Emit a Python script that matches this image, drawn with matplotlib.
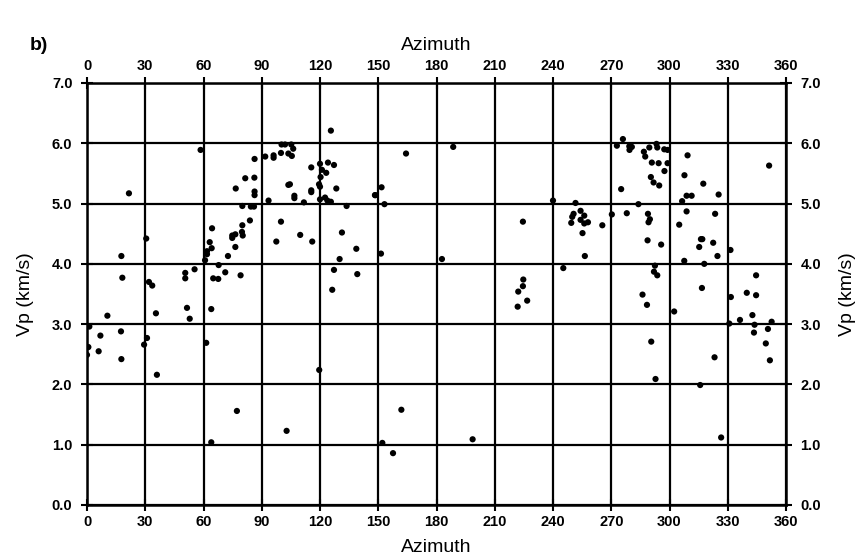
import matplotlib
matplotlib.use("Agg")
import matplotlib.pyplot as plt
import numpy as np

plt.rcParams['font.family'] = ['Liberation Sans', 'DejaVu Sans']

# Azimuth (degrees) and P-wave velocity (km/s) of each measurement
azimuth = [
    125.6, 58.5, 86.3, 91.8, 96.1, 96.1, 99.9, 100.2, 102.0, 105.2, 106.2, 103.7, 105.5,
    115.5, 120.0, 124.1, 127.2, 121.0, 123.2, 120.3, 119.5, 120.0, 128.4, 115.5, 115.5,
    103.7, 104.5, 106.8, 106.8, 111.7, 120.0, 122.6, 123.8, 125.6, 133.7, 148.3,
    76.6, 81.5, 86.2, 86.3, 86.3, 93.5, 80.0, 84.4, 86.0, 83.9, 80.0, 99.9, 109.8,
    116.0, 97.5, 131.3, 138.7, 130.1, 127.2, 139.2, 126.3, 79.8, 80.2, 74.8, 76.4,
    74.8, 76.4, 72.6, 64.4, 63.2, 64.2, 61.8, 61.8, 60.8, 67.8, 71.2, 65.0, 67.6,
    79.1, 55.4, 50.6, 50.6, 31.9, 33.6, 17.7, 18.2, 21.6, 30.5,
    10.5, 35.5, 51.5, 52.9, 64.0, 1.2, 6.9, 17.5, 0.2, 0.7, 0.0, 6.0, 17.7, 30.9,
    29.4, 36.0, 61.4, 119.6, 77.2, 102.8, 64.0,
    164.3, 188.6, 151.7, 148.5, 153.2, 151.4, 182.8, 224.5, 224.7, 224.5, 222.1,
    240.0, 245.3, 251.6, 250.6, 249.9, 249.4, 254.2, 256.1, 254.2, 256.1, 258.0,
    255.2, 256.4, 265.4, 270.3, 278.0, 284.0, 275.1, 276.0, 272.9, 279.3, 280.6,
    279.4, 286.8, 287.5, 289.6, 293.3, 293.7, 297.3, 299.0, 290.9, 294.4, 299.0,
    297.4, 290.4, 291.8, 294.7, 288.9, 289.9, 289.2, 288.7, 295.7, 292.5, 292.0,
    293.7, 286.1,
    309.3, 307.7, 317.4, 325.3, 308.8, 311.4, 306.5, 308.8, 323.5, 305.0, 316.2,
    316.9, 315.3, 322.5, 324.7, 331.4, 307.6, 317.9, 344.6, 316.7, 339.8, 344.6,
    331.6, 351.3,
    288.4, 302.4, 336.3, 342.7, 330.8, 343.8, 343.5, 350.7, 352.6, 349.6, 351.7,
    290.6, 292.8, 323.2, 315.8, 326.6,
    221.8, 226.7, 161.9, 198.6, 152.1, 157.6,
]
vp = [
    6.21, 5.89, 5.74, 5.78, 5.76, 5.80, 5.84, 5.98, 5.98, 5.98, 5.91, 5.83, 5.79,
    5.60, 5.66, 5.68, 5.64, 5.56, 5.51, 5.44, 5.32, 5.28, 5.25, 5.22, 5.19,
    5.31, 5.32, 5.13, 5.09, 5.02, 5.07, 5.10, 5.05, 5.03, 4.96, 5.14,
    5.25, 5.42, 5.43, 5.20, 5.14, 5.05, 4.96, 4.95, 4.95, 4.72, 4.64, 4.70, 4.48,
    4.37, 4.37, 4.52, 4.25, 4.08, 3.90, 3.83, 3.57, 4.53, 4.47, 4.47, 4.49,
    4.43, 4.28, 4.13, 4.59, 4.36, 4.26, 4.21, 4.16, 4.06, 3.98, 3.86, 3.76, 3.75,
    3.81, 3.91, 3.85, 3.76, 3.70, 3.64, 4.13, 3.77, 5.17, 4.42,
    3.14, 3.18, 3.27, 3.09, 3.25, 2.96, 2.81, 2.88, 2.62, 2.62, 2.49, 2.55, 2.42, 2.77,
    2.66, 2.16, 2.69, 2.24, 1.56, 1.23, 1.04,
    5.83, 5.94, 5.27, 5.14, 4.99, 4.17, 4.08, 4.70, 3.74, 3.63, 3.54,
    5.05, 3.93, 5.01, 4.83, 4.78, 4.68, 4.88, 4.80, 4.73, 4.67, 4.69,
    4.51, 4.13, 4.64, 4.82, 4.84, 4.99, 5.24, 6.07, 5.96, 5.95, 5.94,
    5.89, 5.86, 5.78, 5.93, 5.99, 5.93, 5.90, 5.89, 5.68, 5.67, 5.67,
    5.54, 5.44, 5.35, 5.30, 4.83, 4.74, 4.69, 4.39, 4.32, 3.97, 3.87,
    3.81, 3.49,
    5.80, 5.47, 5.33, 5.15, 5.13, 5.13, 5.04, 4.87, 4.83, 4.65, 4.41,
    4.41, 4.28, 4.35, 4.13, 4.23, 4.05, 4.00, 3.81, 3.60, 3.52, 3.48,
    3.45, 5.63,
    3.32, 3.21, 3.07, 3.15, 3.01, 2.99, 2.86, 2.92, 3.04, 2.68, 2.40,
    2.71, 2.09, 2.45, 1.99, 1.12,
    3.29, 3.39, 1.58, 1.09, 1.03, 0.86,
]

az_ticks = list(range(0, 361, 30))
vp_ticks = [0.0, 1.0, 2.0, 3.0, 4.0, 5.0, 6.0, 7.0]
vp_tick_labels = [f"{v:.1f}" for v in vp_ticks]

W, H = 867, 560
fig = plt.figure(figsize=(W / 100, H / 100), dpi=100)
ax = fig.add_axes([87 / W, 1 - 505 / H, (786 - 87) / W, (505 - 83) / H])

ax.set_xlim(0, 360)
ax.set_ylim(0, 7)

# heavy black grid, as on the printed figure
for x in az_ticks:
    ax.axvline(x, color='black', lw=1.6, zorder=1)
for y in vp_ticks:
    ax.axhline(y, color='black', lw=1.6, zorder=1)

ax.scatter(azimuth, vp, s=20, color='black', edgecolors='none', zorder=3)

for s in ax.spines.values():
    s.set_linewidth(1.8)
    s.set_color('black')

tick_font = dict(fontsize=10.5, fontweight='bold')
ax.set_xticks(az_ticks)
ax.set_xticklabels([str(t) for t in az_ticks], **tick_font)
ax.set_yticks(vp_ticks)
ax.set_yticklabels(vp_tick_labels, **tick_font)
ax.tick_params(axis='both', direction='inout', length=9, width=1.5,
               top=True, labeltop=True, right=True, labelright=True)
ax.tick_params(axis='y', pad=6)
ax.tick_params(axis='x', pad=3)

# axis titles on all four sides
label_font = dict(fontsize=14)
fig.text(436 / W, 1 - 46 / H, "Azimuth", ha='center', va='center', **label_font)
fig.text(436 / W, 1 - 548 / H, "Azimuth", ha='center', va='center', **label_font)
fig.text(25 / W, 1 - 294 / H, "Vp (km/s)", rotation=90, ha='center', va='center', **label_font)
fig.text(848 / W, 1 - 294 / H, "Vp (km/s)", rotation=90, ha='center', va='center', **label_font)

fig.text(30 / W, 1 - 45 / H, "b)", fontsize=14, fontweight='bold', ha='left', va='center')

fig.savefig("out.png", dpi=100, facecolor='white')
